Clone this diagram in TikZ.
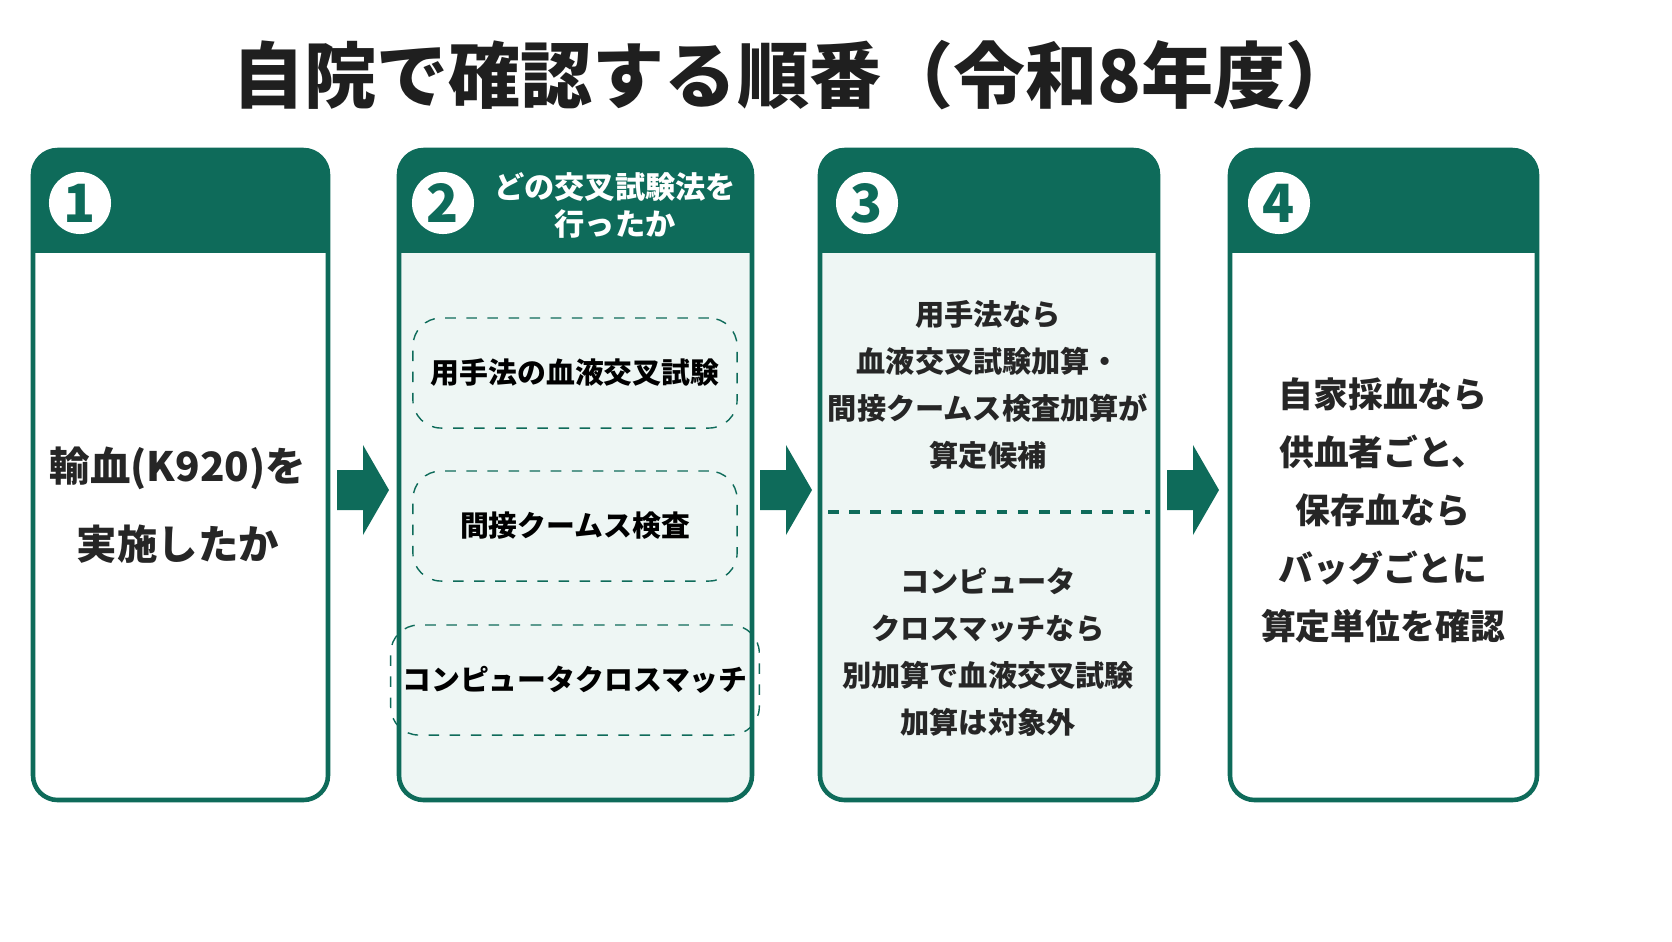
\documentclass[tikz,border=0pt]{standalone}
\usepackage{fontspec}
\newfontfamily\jp{Noto Sans CJK JP}
\usetikzlibrary{positioning}
\definecolor{deepgreen}{RGB}{14, 107, 90}
\definecolor{mintbg}{RGB}{238, 246, 244}
\tikzset{
  steptxt/.style={text=black!85, align=center},
  numdot/.style={circle, fill=white, minimum size=0.62cm, inner sep=0pt, text=deepgreen, font=\jp\bfseries\fontsize{15}{15}\selectfont},
  optbox/.style={draw=deepgreen, dashed, rounded corners=8pt, minimum width=3.24cm, minimum height=1.1cm, font=\jp\bfseries\fontsize{8.2}{10}\selectfont}
}
% step frame: #1 left, #2 right, #3 fill
\newcommand{\stepframe}[3]{%
  \begin{scope}
    \clip[rounded corners=7pt] (#1,150) rectangle (#2,800);
    \fill[#3] (#1,150) rectangle (#2,800);
    \fill[deepgreen] (#1,150) rectangle (#2,253);
  \end{scope}
  \draw[deepgreen, line width=1.3pt, rounded corners=7pt] (#1,150) rectangle (#2,800);%
}
% block arrow starting at x = #1
\newcommand{\flowarrow}[1]{%
  \fill[deepgreen] (#1,470) -- ++(26,0) -- ++(0,-25) -- ++(26,45) -- ++(-26,45) -- ++(0,-25) -- ++(-26,0) -- cycle;%
}
\begin{document}
\begin{tikzpicture}[x=0.01cm, y=-0.01cm]
  \fill[white] (0,0) rectangle (1672,941);

  % title
  \node[font=\jp\bfseries\fontsize{20.5}{24}\selectfont, text=black!88] (title) at (795,75) {自院で確認する順番（令和8年度）};

  % frames
  \stepframe{33}{328}{white}
  \stepframe{399}{752}{mintbg}
  \stepframe{820}{1158}{mintbg}
  \stepframe{1230}{1537}{white}

  % numbers
  \node[numdot] (n1) at (80,203) {1};
  \node[numdot] (n2) at (443,203) {2};
  \node[numdot] (n3) at (867,203) {3};
  \node[numdot] (n4) at (1279,203) {4};
  \node[font=\jp\bfseries\fontsize{8.6}{10.5}\selectfont, text=white, align=center] (h2) at (615,205) {どの交叉試験法を\\行ったか};

  % step 1
  \node[steptxt, font=\jp\bfseries\fontsize{11.5}{22}\selectfont] (t1) at (178,505) {輸血(K920)を\\実施したか};

  % step 2
  \node[optbox] (o1) at (575,373) {用手法の血液交叉試験};
  \node[optbox] (o2) at (575,526) {間接クームス検査};
  \node[optbox] (o3) at (575,680) {コンピュータクロスマッチ};

  % step 3
  \node[steptxt, font=\jp\bfseries\fontsize{8.3}{13.4}\selectfont] (t3a) at (988,385) {用手法なら\\血液交叉試験加算・\\間接クームス検査加算が\\算定候補};
  \coordinate (cutl) at (828,512);
  \coordinate (cutr) at (1150,512);
  \draw[deepgreen, dashed, line width=0.9pt] (cutl) -- (cutr);
  \node[steptxt, font=\jp\bfseries\fontsize{8.3}{13.4}\selectfont] (t3b) at (988,652) {コンピュータ\\クロスマッチなら\\別加算で血液交叉試験\\加算は対象外};

  % step 4
  \node[steptxt, font=\jp\bfseries\fontsize{9.9}{16.5}\selectfont] (t4) at (1383,510) {自家採血なら\\供血者ごと、\\保存血なら\\バッグごとに\\算定単位を確認};

  % arrows
  \flowarrow{337}
  \flowarrow{760}
  \flowarrow{1167}

  \pgfresetboundingbox
  \useasboundingbox (0,0) rectangle (1672,941);
\end{tikzpicture}
\end{document}
